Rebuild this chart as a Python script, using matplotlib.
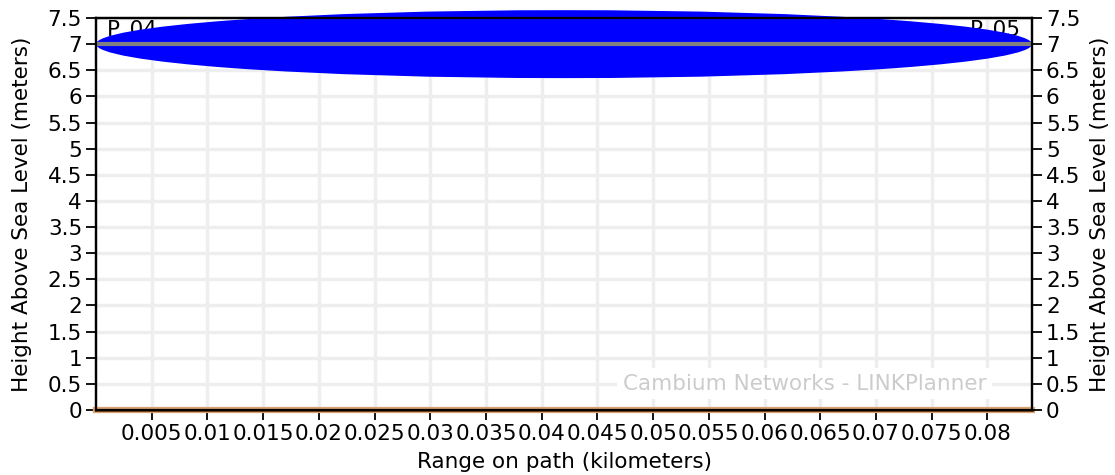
import matplotlib
matplotlib.use("Agg")
import matplotlib.pyplot as plt
from matplotlib.patches import Ellipse
import numpy as np

path_length_km = 0.084
antenna_height_m = 7.0
fresnel_radius_m = 0.65
ground_height_m = 0.0
site_labels = ["P_04", "P_05"]
x_ticks = [0.005, 0.01, 0.015, 0.02, 0.025, 0.03, 0.035, 0.04, 0.045, 0.05,
           0.055, 0.06, 0.065, 0.07, 0.075, 0.08]
x_tick_labels = ["0.005", "0.01", "0.015", "0.02", "0.025", "0.03", "0.035", "0.04",
                 "0.045", "0.05", "0.055", "0.06", "0.065", "0.07", "0.075", "0.08"]
y_ticks = [0, 0.5, 1, 1.5, 2, 2.5, 3, 3.5, 4, 4.5, 5, 5.5, 6, 6.5, 7, 7.5]
y_tick_labels = ["0", "0.5", "1", "1.5", "2", "2.5", "3", "3.5", "4", "4.5", "5",
                 "5.5", "6", "6.5", "7", "7.5"]

FS = 15.5
fig = plt.figure(figsize=(11.15, 4.75), dpi=100)
ax = fig.add_axes([0.0861, 0.1368, 0.8395, 0.8253])
ax.set_xlim(0, path_length_km)
ax.set_ylim(0, 7.5)

ax.set_xticks(x_ticks)
ax.set_xticklabels(x_tick_labels, fontsize=FS)
ax.set_yticks(y_ticks)
ax.set_yticklabels(y_tick_labels, fontsize=FS)
ax.grid(True, color="#eeeeee", linewidth=2.5, zorder=0)
ax.set_axisbelow(True)
ax.tick_params(direction="out", length=7, width=1.3, pad=3)
for s in ax.spines.values():
    s.set_linewidth(1.6)

ax.set_xlabel("Range on path (kilometers)", fontsize=FS, labelpad=6)
ax.set_ylabel("Height Above Sea Level (meters)", fontsize=FS, labelpad=11)

ax2 = ax.twinx()
ax2.set_ylim(0, 7.5)
ax2.set_yticks(y_ticks)
ax2.set_yticklabels(y_tick_labels, fontsize=FS)
ax2.tick_params(direction="out", length=7, width=1.3, pad=3)
ax2.set_ylabel("Height Above Sea Level (meters)", fontsize=FS, labelpad=7)
for s in ax2.spines.values():
    s.set_linewidth(1.6)

# site labels (under the fresnel zone)
ax.text(0.0010, 7.47, site_labels[0], fontsize=FS, va="top", ha="left", zorder=2)
ax.text(path_length_km - 0.0010, 7.47, site_labels[1], fontsize=FS, va="top", ha="right", zorder=2)

# fresnel zone
ell = Ellipse((path_length_km / 2, antenna_height_m), path_length_km, 2 * fresnel_radius_m,
              facecolor="#0000ff", edgecolor="none", zorder=3, clip_on=False)
ax.add_patch(ell)
ax.plot([0, path_length_km], [antenna_height_m, antenna_height_m], color="#808080",
        linewidth=3, zorder=4, solid_capstyle="butt")

# ground
ax.plot([0, path_length_km], [ground_height_m, ground_height_m], color="#d9a070",
        linewidth=4.5, zorder=4, clip_on=False)
ax.plot([0, path_length_km], [ground_height_m, ground_height_m], color="#6b3f14",
        linewidth=2, zorder=5, clip_on=False)

ax.text(0.0636, 0.5, "Cambium Networks - LINKPlanner", fontsize=FS, color="#cccccc",
        ha="center", va="center", zorder=2,
        bbox=dict(facecolor="white", edgecolor="none", pad=4))

fig.savefig("out.png", dpi=100)
